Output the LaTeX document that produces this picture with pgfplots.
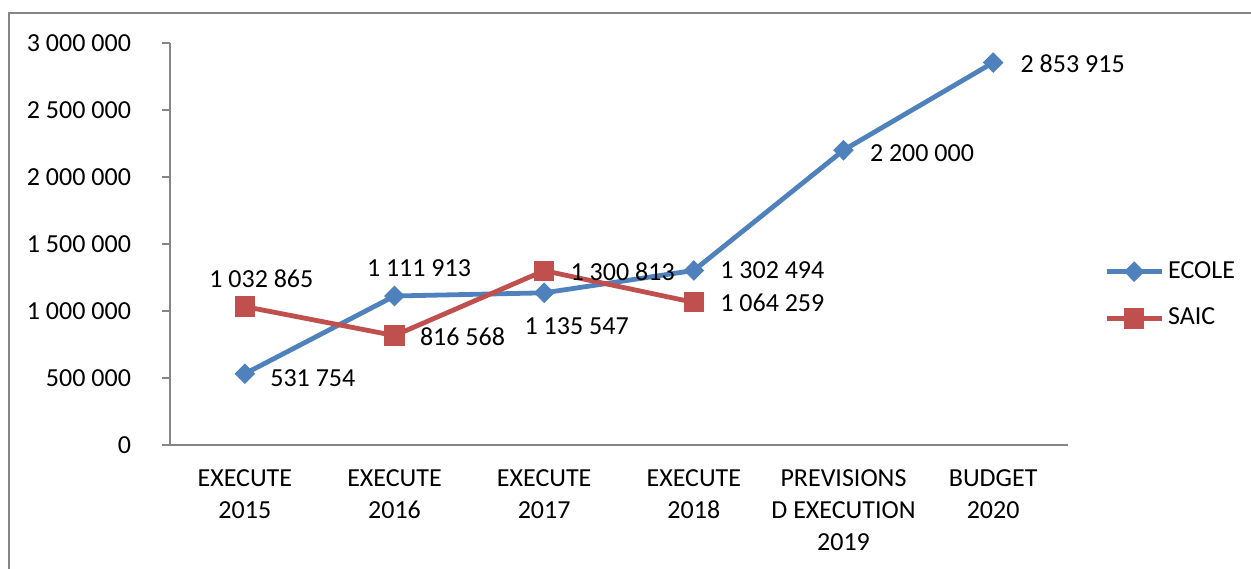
\documentclass[border=0pt]{standalone}
\usepackage{pgfplots}
\pgfplotsset{compat=1.18}
\usepackage{pgfplotstable}
\usepackage{fontspec}
\setmainfont{Carlito}
\definecolor{ecole}{HTML}{4F81BD}
\definecolor{saic}{HTML}{C0504D}
\definecolor{axisgray}{HTML}{868686}

% x y label dx dy  (label offsets in pt, west anchor)
\pgfplotstableread{
x   y       lbl            dx     dy
0.5 531754  {531 754}      12.5   -2
1.5 1111913 {1 111 913}    -14    14
2.5 1135547 {1 135 547}    -10    -16.5
3.5 1302494 {1 302 494}    13     0
4.5 2200000 {2 200 000}    13     -1.5
5.5 2853915 {2 853 915}    13.5   -0.5
}\ecoletable

\pgfplotstableread{
x   y       lbl            dx     dy
0.5 1032865 {1 032 865}    -18    14
1.5 816568  {816 568}      12.5   -0.5
2.5 1300813 {1 300 813}    13     -0.5
3.5 1064259 {1 064 259}    13     0
}\saictable

\pgfplotsset{
    lbl/.style={
        nodes near coords,
        point meta=explicit symbolic,
        visualization depends on={\thisrow{dx} \as \dx},
        visualization depends on={\thisrow{dy} \as \dy},
        nodes near coords style={anchor=west, xshift=\dx pt, yshift=\dy pt,
            text=black, inner sep=0pt, font=\fontsize{13}{16}\selectfont},
    }
}

\begin{document}
\fontsize{13}{16}\selectfont
\begin{tikzpicture}
\useasboundingbox (0,0) rectangle (625.5pt,284pt);
\draw[axisgray, line width=0.8pt] (4.5pt,-5pt) -- (4.5pt,277.5pt) -- (640pt,277.5pt);
\begin{axis}[
    at={(85pt,61.5pt)}, anchor=south west,
    scale only axis,
    width=449pt, height=201pt,
    xmin=0, xmax=6,
    ymin=0, ymax=3000000,
    axis lines*=left,
    axis line style={axisgray, line width=0.9pt},
    every tick/.style={axisgray, line width=0.9pt},
    tick align=outside,
    major tick length=4pt,
    xtick={0.5,1.5,2.5,3.5,4.5,5.5},
    xticklabels={EXECUTE\\2015,EXECUTE\\2016,EXECUTE\\2017,EXECUTE\\2018,PREVISIONS\\D EXECUTION\\2019,BUDGET\\2020},
    xticklabel style={align=center, text=black, yshift=-4pt},
    x tick style={draw=none},
    extra x ticks={0,1,2,3,4,5,6},
    extra x tick labels={},
    extra x tick style={major tick length=4pt, tick style={axisgray, line width=0.9pt}},
    ytick={0,500000,1000000,1500000,2000000,2500000,3000000},
    yticklabels={0,500 000,1 000 000,1 500 000,2 000 000,2 500 000,3 000 000},
    yticklabel style={text=black, xshift=-11pt},
    scaled y ticks=false,
    clip=false,
    legend style={at={(1.04,0.373)}, anchor=west, draw=none, fill=none,
        row sep=9pt, inner sep=0pt, font=\fontsize{13}{16}\selectfont},
    legend cell align=left,
    legend image code/.code={
        \draw[#1] (0pt,0pt) -- (27.5pt,0pt);
        \draw[#1, mark repeat=1] plot coordinates {(13.75pt,0pt)};
    },
]
\addplot[color=ecole, line width=2.4pt, mark=diamond*, mark size=4.8pt,
    mark options={solid, fill=ecole, line width=0.5pt, xscale=1.33}, lbl]
    table[x=x, y=y, meta=lbl] {\ecoletable};
\addlegendentry{ECOLE}
\addplot[color=saic, line width=2.4pt, mark=square*, mark size=4.8pt,
    mark options={solid, fill=saic, line width=0.5pt}, lbl]
    table[x=x, y=y, meta=lbl] {\saictable};
\addlegendentry{SAIC}
\end{axis}
\end{tikzpicture}
\end{document}
